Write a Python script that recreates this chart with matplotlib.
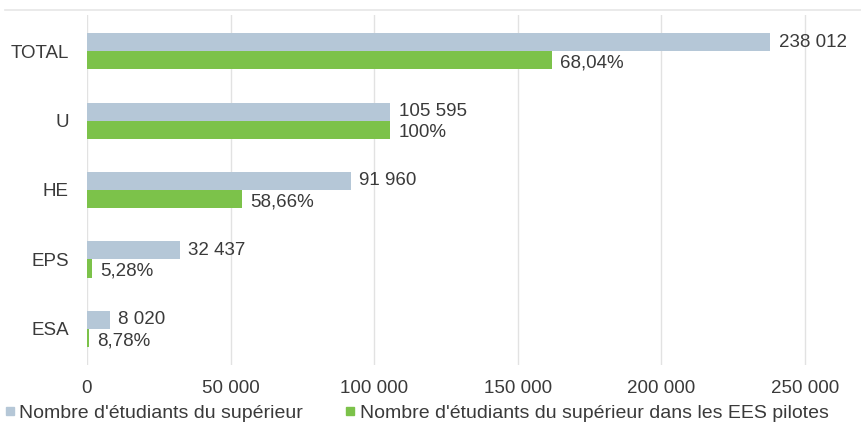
import matplotlib
matplotlib.use("Agg")
import matplotlib.pyplot as plt
from matplotlib.lines import Line2D

categories = ["TOTAL", "U", "HE", "EPS", "ESA"]
students = [238012, 105595, 91960, 32437, 8020]
pilot_students = [161944, 105595, 53944, 1713, 704]
pilot_labels = ["68,04%", "100%", "58,66%", "5,28%", "8,78%"]
xticks = [0, 50000, 100000, 150000, 200000, 250000]
xtick_labels = ["0", "50 000", "100 000", "150 000", "200 000", "250 000"]
legend_labels = ["Nombre d'étudiants du supérieur",
                 "Nombre d'étudiants du supérieur dans les EES pilotes"]

plt.rcParams['font.family'] = ["Liberation Sans", "DejaVu Sans"]

BLUE = "#b5c7d7"
GREEN = "#7cc24a"
TXT = "#3a3a3a"
FS = 13.5

fig = plt.figure(figsize=(8.61, 4.28), dpi=100)
ax = fig.add_axes([87/861, 1 - 365/428, (848-87)/861, 350/428])

h = 0.26
ys = list(range(len(categories)))
ax.barh([y - h/2 for y in ys], students, height=h, color=BLUE, zorder=2)
ax.barh([y + h/2 for y in ys], pilot_students, height=h, color=GREEN, zorder=2)

for y, v, g, p in zip(ys, students, pilot_students, pilot_labels):
    ax.annotate(f"{v:,}".replace(",", " "), (v, y - h/2), xytext=(6, 0),
                textcoords="offset points", va="center", ha="left",
                fontsize=FS, color=TXT)
    ax.annotate(p, (g, y + h/2), xytext=(6, -2),
                textcoords="offset points", va="center", ha="left",
                fontsize=FS, color=TXT)

ax.set_xlim(0, 265000)
ax.set_ylim(len(categories) - 0.48, -0.52)
ax.set_yticks(ys)
ax.set_yticklabels(categories, fontsize=FS, color=TXT)
ax.set_xticks(xticks)
ax.set_xticklabels(xtick_labels, fontsize=FS, color=TXT)
ax.tick_params(length=0, pad=11)
ax.tick_params(axis='y', pad=13)
ax.grid(axis='x', color="#e2e2e2", linewidth=1, zorder=0)
for s in ax.spines.values():
    s.set_visible(False)

fig.add_artist(Line2D([5/861, 1], [1 - 10/428, 1 - 10/428],
                      color="#e6e6e6", linewidth=1.2, transform=fig.transFigure))

handles = [Line2D([], [], marker="s", linestyle="", markersize=6, color=BLUE),
           Line2D([], [], marker="s", linestyle="", markersize=6, color=GREEN)]
fig.legend(handles, legend_labels, loc="center left", bbox_to_anchor=(0.0, 1 - 413/428),
           ncol=2, frameon=False, fontsize=14, handletextpad=0.0, columnspacing=1.9,
           handlelength=1.0, labelcolor=TXT, borderaxespad=0, borderpad=0)

fig.savefig("out.png", dpi=100)
